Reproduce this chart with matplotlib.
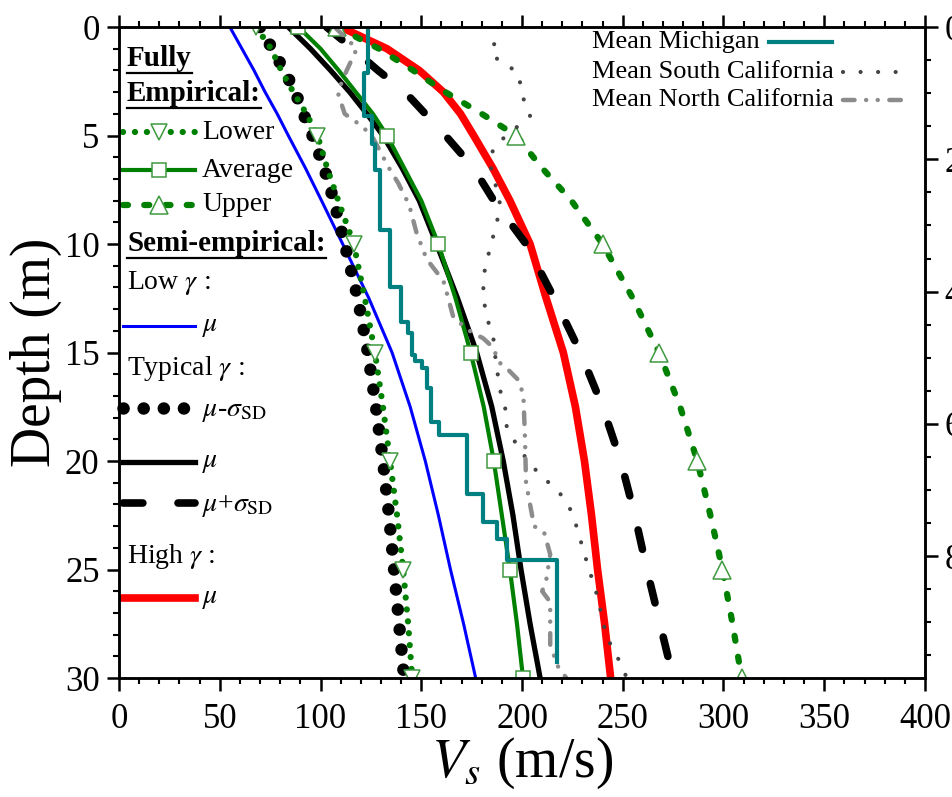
import numpy as np
import matplotlib
matplotlib.use("Agg")
import matplotlib.pyplot as plt
from matplotlib.lines import Line2D
from matplotlib.ticker import MultipleLocator

plt.rcParams['font.family'] = ['Liberation Serif', 'DejaVu Serif']
plt.rcParams['mathtext.fontset'] = 'stix'

# depth grid (m) for the model profiles
depth = [0, 1, 2, 3, 4, 5, 6.5, 8, 10, 12.5, 15, 17.5, 20, 22.5, 25, 27.5, 30]

# semi-empirical profiles, Vs (m/s)
low_mu = [55, 61, 67, 72.5, 78.5, 84, 92.5, 100.5, 111, 124, 135.5, 144.5,
          152, 158.5, 164.5, 171, 177]
typ_minus = [70, 76, 82, 87.5, 91.5, 96, 101.8, 106.6, 112, 118.5, 123.5, 127.5,
             131, 134, 136.5, 139, 141.5]
typ_mu = [84, 95, 105, 114.5, 123, 131, 140.5, 149, 157.6, 168, 177.5, 185,
          190.7, 195.5, 199.5, 204, 209]
typ_plus = [103, 116, 128.5, 142, 152, 162, 176, 186, 202, 216, 229, 240,
            249, 256, 262, 268.5, 275]
high_mu = [110, 133, 149, 161, 169.5, 176, 185.5, 194, 204, 212, 220.5, 226.5,
           231, 234.5, 237.5, 241, 244]

# fully empirical profiles, Vs (m/s)
emp_lower = [68, 75.5, 80.5, 86.5, 93, 98.5, 103.3, 108.8, 116.5, 122, 127, 131,
             134.5, 138, 141, 143.5, 145.5]
emp_avg = [89, 100, 109, 117.5, 126, 133, 141.5, 150, 158.5, 167, 174.5, 181,
           186, 190, 194, 197.5, 200.5]
emp_upper = [108, 129, 146, 162, 180, 197, 210, 224.5, 240, 255, 268, 278.5,
             287, 293.5, 299.5, 304.5, 309]

# mean measured profiles
mich_top = [0, 2.1, 4.1, 5.4, 6.6, 9.35, 12.0, 13.6, 14.1, 15.1, 15.4, 15.7,
            16.65, 18.2, 18.8, 21.5, 22.8, 23.6, 24.56]
mich_vs = [123.5, 121.5, 125.5, 127, 129.5, 134.5, 140, 143.6, 145.2, 146.9, 150.2,
           153, 154.6, 159, 172.5, 180.4, 187.7, 192.4, 217.2]
mich_bottom = 29.25

socal_depth = [0, 1.3, 1.7, 2.1, 3.3, 4.1, 5.5, 6.3, 8.0, 8.8, 9.9, 11.1, 12.0, 12.7,
               13.6, 14.35, 15.1, 16.7, 17.5, 18.4, 19.0, 19.7, 20.3, 20.9, 21.5,
               22.2, 23.0, 24.6, 26.2, 27.8, 28.6, 29.25, 30]
socal_vs = [188, 185, 191.5, 198, 200.7, 204, 186, 184, 189, 188, 185, 181.6, 180.8,
            181.2, 183.3, 185.8, 186.6, 189, 191.6, 192.4, 195.7, 200.7, 205.6, 212.2,
            218.9, 223.8, 227, 232, 237.3, 241.2, 244.5, 248.6, 252]

nocal_depth = [0, 1.0, 2.0, 3.0, 4.0, 4.6, 5.1, 6.5, 7.2, 8.2, 9.5, 10.7, 11.7, 12.3,
               13.4, 14.0, 14.35, 14.8, 15.4, 15.8, 16.3, 17.0, 19.0, 21.0, 22.0,
               23.0, 23.3, 24.3, 25.5, 26.0, 26.5, 28.5, 29.5, 30]
nocal_vs = [107, 118, 113, 108.5, 112, 121, 126, 134, 138.6, 144, 147.7, 152.7, 161,
            162.8, 166, 174, 180.8, 186, 188, 193.2, 198.5, 200.7, 201.5, 202, 204,
            206, 211, 214, 212, 210, 214, 214, 218, 222]

GREEN = '#008000'
MK_GREEN = '#3f9a3f'
TEAL = '#008080'

fig = plt.figure(figsize=(9.53, 7.97), dpi=100)
ax = fig.add_axes([0.1249, 0.1493, 0.8457, 0.8168])

d = np.array(depth)
marks = list(np.flatnonzero(np.mod(d, 5) == 0))

dots_big = dict(ls=(0, (0.01, 1.6)), dash_capstyle='round')
dots_small = dict(ls=(0, (0.01, 1.9)), dash_capstyle='round')
long_dash = dict(ls=(0, (2.6, 4.6)), dash_capstyle='round')
short_dash = dict(ls=(0, (0.8, 2.6)), dash_capstyle='round')
sc_dots = dict(ls=(0, (0.01, 4.2)), dash_capstyle='round')
nc_dashdot = dict(ls=(0, (2.6, 2.6, 0.01, 2.6, 0.01, 2.6)), dash_capstyle='round')
mk = dict(mfc='white', mec=MK_GREEN, mew=1.1)

styles = {
    'high': dict(color='#ff0000', lw=5.5),
    'low': dict(color='#0000ff', lw=2.2),
    'minus': dict(color='black', lw=9, **dots_big),
    'mu': dict(color='black', lw=3.8),
    'plus': dict(color='black', lw=5.5, **long_dash),
    'lower': dict(color=GREEN, lw=4.5, marker='v', ms=12, **mk, **dots_small),
    'avg': dict(color=GREEN, lw=3, marker='s', ms=9.5, **mk),
    'upper': dict(color=GREEN, lw=4.5, marker='^', ms=12.5, **mk, **short_dash),
    'socal': dict(color='#444444', lw=3, **sc_dots),
    'nocal': dict(color='#8c8c8c', lw=3.2, **nc_dashdot),
    'mich': dict(color=TEAL, lw=3),
}

ax.plot(high_mu, depth, **styles['high'])
ax.plot(low_mu, depth, **styles['low'])
ax.plot(typ_minus, depth, **styles['minus'])
ax.plot(typ_mu, depth, **styles['mu'])
ax.plot(typ_plus, depth, **styles['plus'])
ax.plot(emp_lower, depth, markevery=marks, **styles['lower'])
ax.plot(emp_avg, depth, markevery=marks, **styles['avg'])
ax.plot(emp_upper, depth, markevery=marks, **styles['upper'])
ax.plot(socal_vs, socal_depth, **styles['socal'])
ax.plot(nocal_vs, nocal_depth, **styles['nocal'])

# layered Michigan profile drawn as a staircase
edges = list(mich_top[1:]) + [mich_bottom]
mich_d = np.ravel(np.column_stack([mich_top, edges]))
mich_v = np.repeat(mich_vs, 2)
ax.plot(mich_v, mich_d, **styles['mich'])

ax.set_xlim(0, 400)
ax.set_ylim(30, 0)
ax.xaxis.set_major_locator(MultipleLocator(50))
ax.xaxis.set_minor_locator(MultipleLocator(10))
ax.yaxis.set_major_locator(MultipleLocator(5))
ax.yaxis.set_minor_locator(MultipleLocator(1))
ax.tick_params(which='major', direction='out', length=9, width=1.8,
               labelsize=25, top=True)
ax.tick_params(which='minor', direction='out', length=4.5, width=1.5, top=True)
ax.tick_params(axis='x', which='major', pad=9)
ax.tick_params(axis='y', which='major', pad=5)
for s in ax.spines.values():
    s.set_linewidth(1.8)

ax.set_xlabel(r'$V_s$ (m/s)', fontsize=40, labelpad=0)
ax.set_ylabel('Depth (m)', fontsize=40, labelpad=2)

# secondary depth scale in feet
ax2 = ax.twinx()
ax2.set_ylim(30 / 0.3048, 0)
ax2.yaxis.set_major_locator(MultipleLocator(20))
ax2.yaxis.set_minor_locator(MultipleLocator(5))
ax2.tick_params(which='major', direction='out', length=9, width=1.8,
                labelsize=25, pad=5)
ax2.tick_params(which='minor', direction='out', length=4.5, width=1.5)
for s in ax2.spines.values():
    s.set_linewidth(1.8)

renderer = fig.canvas.get_renderer()
to_ax = ax.transAxes.inverted()
px = 1.0 / (ax.bbox.width)


def key(y, st, x0=0.005, x1=0.094, marker_mid=False):
    kw = dict(st)
    if marker_mid:
        xs = [x0, (x0 + x1) / 2, x1]
        ys = [y] * 3
        kw['markevery'] = [1]
    else:
        xs, ys = [x0, x1], [y, y]
        kw.pop('marker', None)
    ax.add_line(Line2D(xs, ys, transform=ax.transAxes, clip_on=False, **kw))


def label(y, s, x=0.103, size=20, **kw):
    return ax.text(x, y, s, transform=ax.transAxes, fontsize=size,
                   va='center', ha='left', **kw)


def heading(y, s):
    t = label(y, s, x=0.0099, size=21, fontweight='bold')
    bb = t.get_window_extent(renderer)
    (xa, ya), (xb, _) = to_ax.transform([(bb.x0, bb.y0), (bb.x1, bb.y0)])
    ax.add_line(Line2D([xa, xb], [ya - 1.5 * px, ya - 1.5 * px], color='black',
                       lw=1.6, transform=ax.transAxes, clip_on=False))


heading(0.9524, 'Fully')
heading(0.8986, 'Empirical:')
key(0.8387, styles['lower'], marker_mid=True)
label(0.8387, 'Lower')
key(0.7803, styles['avg'], marker_mid=True)
label(0.7803, 'Average')
key(0.7266, styles['upper'], marker_mid=True)
label(0.7266, 'Upper')
heading(0.6682, 'Semi-empirical:')
label(0.6068, r'Low $\gamma$ :', x=0.0099)
key(0.5407, styles['low'])
label(0.5407, r'$\mu$')
label(0.4762, r'Typical $\gamma$ :', x=0.0099)
key(0.4147, styles['minus'])
label(0.4100, r'$\mu$-$\sigma_{\mathrm{SD}}$')
key(0.3318, styles['mu'])
label(0.3318, r'$\mu$')
key(0.2688, styles['plus'])
label(0.2640, r'$\mu$+$\sigma_{\mathrm{SD}}$')
label(0.1859, r'High $\gamma$ :', x=0.0099)
key(0.1229, styles['high'])
label(0.1229, r'$\mu$')

# measured-profile legend, keys placed after the text
for yy, name, st in [(0.9774, 'Mean Michigan', styles['mich']),
                     (0.9313, 'Mean South California', styles['socal']),
                     (0.8879, 'Mean North California', styles['nocal'])]:
    t = label(yy, name, x=0.5868, size=19)
    bb = t.get_window_extent(renderer)
    xe = to_ax.transform((bb.x1, bb.y0))[0]
    key(yy, st, x0=xe + 9 * px, x1=xe + 72 * px)

fig.savefig('out.png', dpi=100)
